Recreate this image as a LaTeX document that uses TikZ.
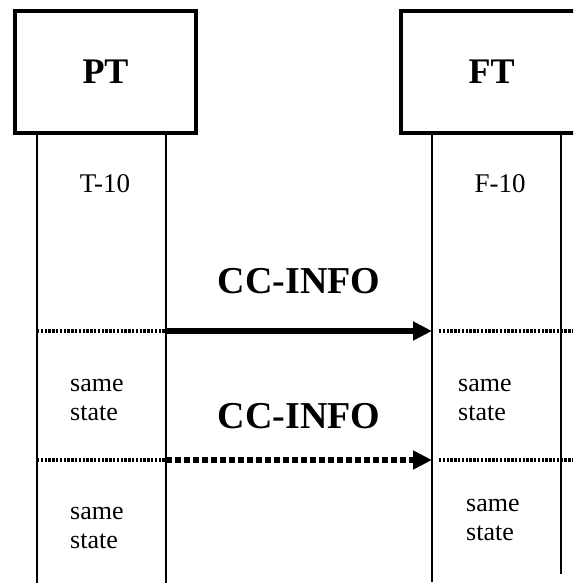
\documentclass[tikz,border=0pt]{standalone}
\usepackage{fontspec}
\setmainfont{Liberation Serif}
\usetikzlibrary{positioning,calc,arrows.meta}

\begin{document}
\begin{tikzpicture}
   [x=1pt,y=-1pt,
    actor/.style={draw,line width=4pt,minimum width=181pt,minimum height=122pt,
	 font=\fontsize{36}{40}\selectfont\bfseries},
	life/.style={line width=1.3pt},
	sync/.style={line width=3.6pt,dash pattern=on 2.4pt off 1.4pt},
	msg/.style={line width=6pt,-{Triangle[length=19pt,width=18pt]}},
	later/.style={msg,line width=5.5pt,dash pattern=on 5.5pt off 3.5pt},
	state/.style={anchor=base west,text width=60pt,align=left,inner sep=0pt,
	 font=\fontsize{26}{29.5}\selectfont},
	title/.style={anchor=base,inner sep=0pt,font=\fontsize{27}{30}\selectfont},
	info/.style={anchor=base,inner sep=0pt,font=\fontsize{38}{42}\selectfont\bfseries}]

\clip (0,0) rectangle (573,585);

\node [actor] (pt) at (105.5,72) {PT};
\node [actor] (ft) at (491.5,72) {FT};

\coordinate (ptL) at (37,135);
\coordinate (ptR) at (166,135);
\coordinate (ftL) at (432,135);
\coordinate (ftR) at (561,135);
\coordinate (m1) at (0,331);
\coordinate (m2) at (0,460);
\coordinate (rim) at (573,0);

\draw [life] (ptL) -- +(0,448);
\draw [life] (ptR) -- +(0,448);
\draw [life] (ftL) -- +(0,447);
\draw [life] (ftR) -- +(0,439);

\node [title] (t10) at (105,193) {T-10};
\node [title] (f10) at (500,193) {F-10};
\node [info] (cc1) at (299,293) {CC-INFO};
\node [info] (cc2) at (299,428) {CC-INFO};
\node [state] (s1) at (70,391) {same\\state};
\node [state] (s2) at (458,391) {same\\state};
\node [state] (s3) at (70,519) {same\\state};
\node [state] (s4) at (466,511) {same\\state};

\draw [sync] (ptL |- m1) -- (ptR |- m1);
\draw [sync] ($(ftL |- m1)+(7,0)$) -- (rim |- m1);
\draw [msg] (ptR |- m1) -- (ftL |- m1);
\draw [sync] (ptL |- m2) -- (ptR |- m2);
\draw [sync] ($(ftL |- m2)+(7,0)$) -- (rim |- m2);
\draw [later] (ptR |- m2) -- (ftL |- m2);
\end{tikzpicture}
\end{document}
